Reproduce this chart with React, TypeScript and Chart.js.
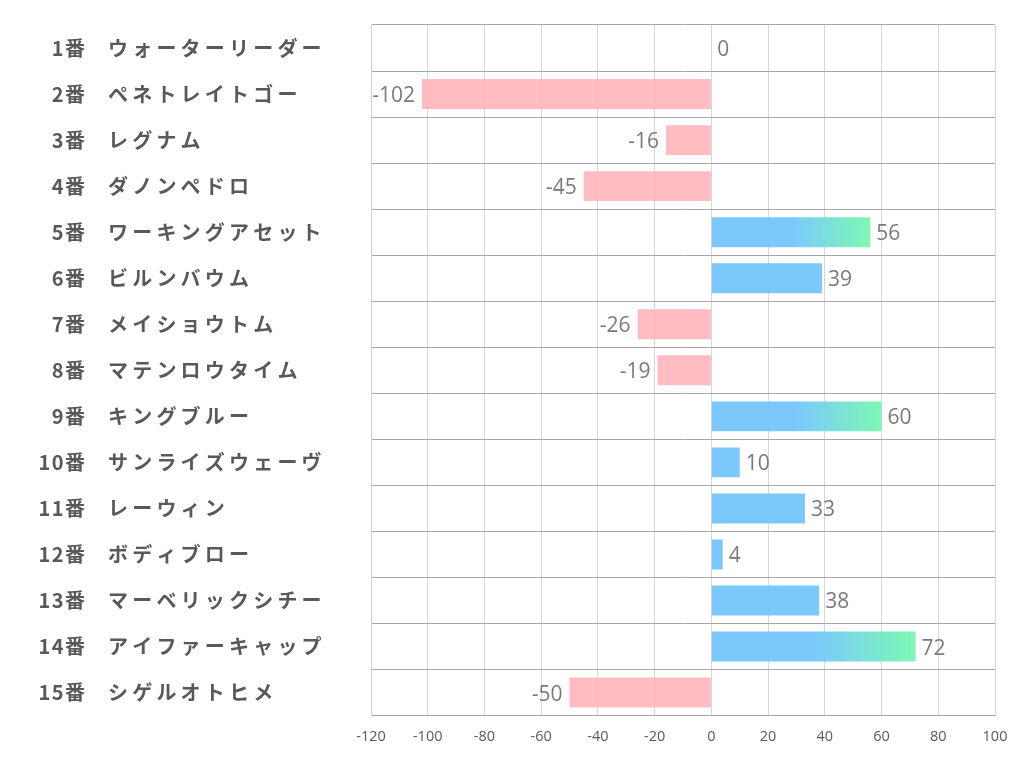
import React, { useEffect, useRef } from "react";
import { Chart, registerables } from "chart.js";

Chart.register(...registerables);

const numbers = ["1番", "2番", "3番", "4番", "5番", "6番", "7番", "8番", "9番", "10番", "11番", "12番", "13番", "14番", "15番"];
const horseNames = [
  "ウォーターリーダー",
  "ペネトレイトゴー",
  "レグナム",
  "ダノンペドロ",
  "ワーキングアセット",
  "ビルンバウム",
  "メイショウトム",
  "マテンロウタイム",
  "キングブルー",
  "サンライズウェーヴ",
  "レーウィン",
  "ボディブロー",
  "マーベリックシチー",
  "アイファーキャップ",
  "シゲルオトヒメ",
];
const scores = [0, -102, -16, -45, 56, 39, -26, -19, 60, 10, 33, 4, 38, 72, -50];
const xMin = -120;
const xMax = 100;
const xStep = 20;

const BLUE = "rgba(112,196,252,0.92)";
const GREEN = "rgba(118,248,176,0.95)";
const PINK = "rgba(255,182,187,0.9)";

const labelPlugin = {
  id: "sideLabels",
  afterDraw(chart: any) {
    const ctx = chart.ctx;
    const y = chart.scales.y;
    const x = chart.scales.x;
    ctx.save();
    ctx.textBaseline = "middle";
    ctx.fillStyle = "#595959";
    ctx.font = "bold 20px 'Noto Sans CJK JP'";
    numbers.forEach((n, i) => {
      const py = y.getPixelForValue(i);
      (ctx as any).letterSpacing = "1.5px";
      ctx.textAlign = "right";
      ctx.fillText(n, 86.5, py);
      (ctx as any).letterSpacing = "4.2px";
      ctx.textAlign = "left";
      ctx.fillText(horseNames[i], 108, py);
    });
    (ctx as any).letterSpacing = "0px";
    ctx.font = "21px 'Open Sans'";
    ctx.fillStyle = "#7a7a7a";
    const zero = x.getPixelForValue(0);
    scores.forEach((v, i) => {
      const py = y.getPixelForValue(i) + 2;
      const px = x.getPixelForValue(v);
      if (v < 0) {
        ctx.textAlign = "right";
        ctx.fillText(String(v), px - 7, py);
      } else {
        ctx.textAlign = "left";
        ctx.fillText(String(v), Math.max(px, zero) + 6, py);
      }
    });
    ctx.restore();
  },
};

export default function App() {
  const ref = useRef<HTMLCanvasElement>(null);
  useEffect(() => {
    if (!ref.current) return;
    const chart = new Chart(ref.current, {
      type: "bar",
      data: {
        labels: numbers,
        datasets: [
          {
            data: scores,
            backgroundColor: (c: any) => {
              const v = scores[c.dataIndex];
              if (v < 0) return PINK;
              if (v < 50) return BLUE;
              const xs = c.chart.scales.x;
              if (!xs) return BLUE;
              const x0 = xs.getPixelForValue(0);
              const x1 = xs.getPixelForValue(v);
              const g = c.chart.ctx.createLinearGradient(x0, 0, x1, 0);
              g.addColorStop(0, BLUE);
              g.addColorStop(0.5, BLUE);
              g.addColorStop(1, GREEN);
              return g;
            },
            borderWidth: 0,
            barPercentage: 0.65,
            categoryPercentage: 1,
          },
        ],
      },
      options: {
        indexAxis: "y",
        animation: false,
        responsive: true,
        maintainAspectRatio: false,
        layout: { padding: { left: 371, right: 27, top: 25, bottom: 23 } },
        plugins: { legend: { display: false }, tooltip: { enabled: false } },
        scales: {
          x: {
            min: xMin,
            max: xMax,
            ticks: {
              stepSize: xStep,
              padding: 13,
              color: "#595959",
              font: { family: "'Open Sans'", size: 14.5 },
            },
            grid: { color: "#d6d6d6", drawTicks: false, lineWidth: 1 },
            border: { color: "#a6a6a6" },
          },
          y: {
            ticks: { display: false },
            grid: { color: "#a6a6a6", drawTicks: false, offset: true },
            border: { color: "#d0d0d0" },
          },
        },
      },
      plugins: [labelPlugin],
    } as any);
    return () => chart.destroy();
  }, []);
  return (
    <div style={{ position: "fixed", left: 0, top: 0, width: 1022, height: 782, background: "#fff" }}>
      <canvas ref={ref} />
    </div>
  );
}
